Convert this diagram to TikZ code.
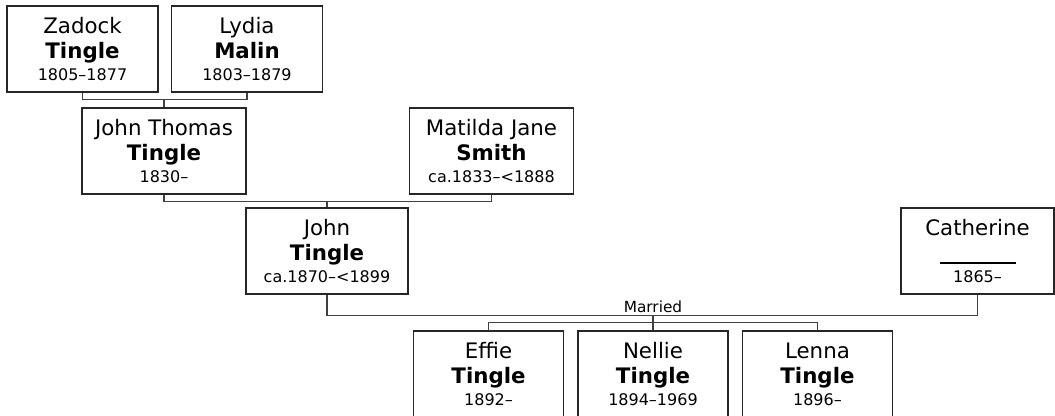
\documentclass[tikz,border=0pt]{standalone}
\usepackage{fontspec}
\setmainfont{DejaVu Sans}
\usepackage{tikz}
\usetikzlibrary{positioning}
\newcommand{\yrs}[1]{{\fontsize{12}{14}\selectfont #1}}

\begin{document}
\begin{tikzpicture}[
  every node/.style={font=\fontsize{16}{18.75}\selectfont},
  person/.style={draw=black!85, line width=1.1pt, minimum width=113.25pt,
                 minimum height=64.5pt, align=center, inner sep=0pt},
  wide/.style={minimum width=123pt},
  kid/.style={minimum width=112.5pt},
  link/.style={draw=black!75, line width=0.8pt},
]
\useasboundingbox (0,0) rectangle (791.25pt,-312pt);

% grandparents
\node[person] (zadock) at (61.875pt,-36.75pt) {Zadock\\\textbf{Tingle}\\[-2.25pt]\yrs{1805--1877}};
\node[person, right=9pt of zadock] (lydia) {Lydia\\\textbf{Malin}\\[-2.25pt]\yrs{1803--1879}};

% parents
\node[person, wide] (jt) at (123pt,-113.25pt) {John Thomas\\\textbf{Tingle}\\[-2.25pt]\yrs{1830--}};
\node[person, wide, right=121.5pt of jt] (matilda) {Matilda Jane\\\textbf{Smith}\\[-2.25pt]\yrs{ca.1833--<1888}};

% couple
\node[person, minimum width=121.5pt] (john) at (245.25pt,-188.25pt) {John\\\textbf{Tingle}\\[-2.25pt]\yrs{ca.1870--<1899}};
\node[person, minimum width=114.75pt] (catherine) at (733.125pt,-188.25pt)
  {Catherine\\\rule[-2.8pt]{57pt}{1.6pt}\\[-2.25pt]\yrs{1865--}};

% children
\node[person, kid] (nellie) at (489.75pt,-280.5pt) {Nellie\\\textbf{Tingle}\\[-2.25pt]\yrs{1894--1969}};
\node[person, kid, left=9.75pt of nellie]  (effie) {Effie\\\textbf{Tingle}\\[-2.25pt]\yrs{1892--}};
\node[person, kid, right=9.75pt of nellie] (lenna) {Lenna\\\textbf{Tingle}\\[-2.25pt]\yrs{1896--}};

\draw[link] (zadock.south) -- ++(0,-5.25pt) coordinate (zbar) -| (lydia.south);
\draw[link] (jt.north) -- (jt.north |- zbar);

\draw[link] (jt.south) -- ++(0,-5.25pt) coordinate (jbar) -| (matilda.south);
\draw[link] (john.north) -- (john.north |- jbar);

% marriage line
\draw[link] (john.south) -- ++(0,-15.75pt) coordinate (mbar) -| (catherine.south);
\node[above, inner sep=2pt, font=\fontsize{11.5}{13}\selectfont] (married) at (nellie.north |- mbar) {Married};

\draw[link] (effie.north) -- ++(0,6pt) coordinate (cbar) -| (lenna.north);
\draw[link] (nellie.north) -- (nellie.north |- mbar);

\end{tikzpicture}
\end{document}
